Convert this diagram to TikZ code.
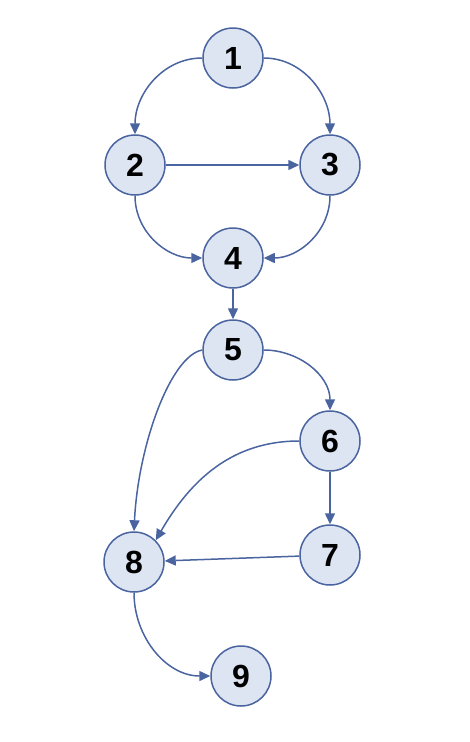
\documentclass[tikz,border=0pt]{standalone}
\usepackage{fontspec}
\setmainfont{Liberation Sans}
\usetikzlibrary{arrows.meta}
\definecolor{nfill}{HTML}{DDE4F2}
\definecolor{nline}{HTML}{4A64A0}
\begin{document}
\begin{tikzpicture}[x=1pt,y=-1pt,
  vert/.style={circle,draw=nline,fill=nfill,line width=1.5pt,minimum size=60pt,inner sep=0pt,
    font=\fontsize{32}{36}\selectfont\bfseries},
  conn/.style={draw=nline,line width=1.5pt,-{Triangle[length=11pt,width=10pt]}}]
\useasboundingbox (0,0) rectangle (470,742);
\node[vert] (n1) at (233,58) {1};
\node[vert] (n2) at (135,165) {2};
\node[vert] (n3) at (330,165) {3};
\node[vert] (n4) at (233,258) {4};
\node[vert] (n5) at (233,350) {5};
\node[vert] (n6) at (330,441) {6};
\node[vert] (n7) at (330,555) {7};
\node[vert] (n8) at (134,562) {8};
\node[vert] (n9) at (241,676) {9};
\draw[conn] (n1.west) to[out=180,in=90] (n2.north);
\draw[conn] (n1.east) to[out=0,in=90] (n3.north);
\draw[conn] (n2) -- (n3);
\draw[conn] (n2.south) to[out=-90,in=180] (n4.west);
\draw[conn] (n3.south) to[out=-90,in=0] (n4.east);
\draw[conn] (n4) -- (n5);
\draw[conn] (n5.west) .. controls +(-32,6) and +(4,-85) .. (n8.north);
\draw[conn] (n5.east) to[out=0,in=90] (n6.north);
\draw[conn] (n6.west) to[out=180,in=60] (n8.north east);
\draw[conn] (n6) -- (n7);
\draw[conn] (n7) -- (n8);
\draw[conn] (n8.south) to[out=-90,in=180] (n9.west);
\end{tikzpicture}
\end{document}
